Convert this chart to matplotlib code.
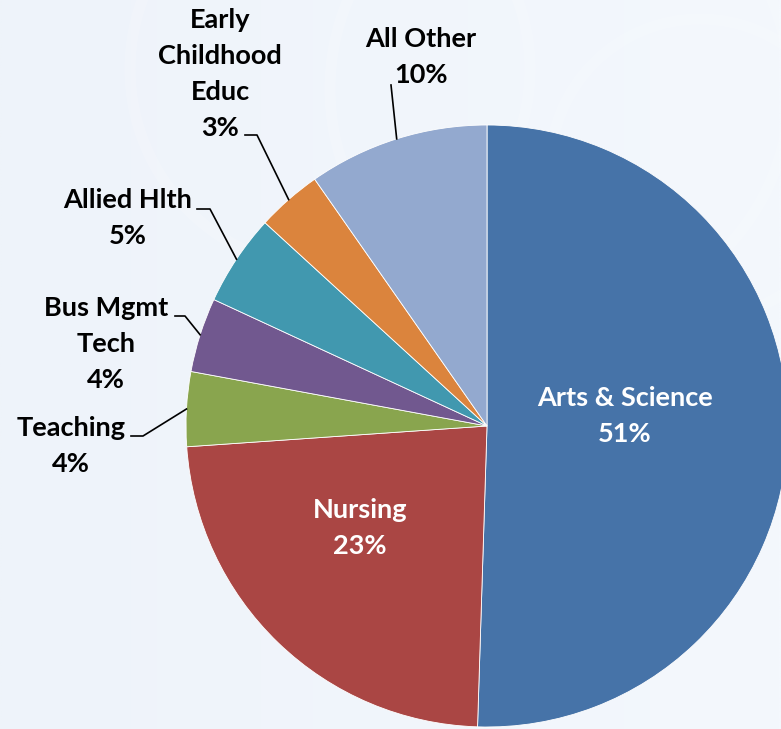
import numpy as np
import matplotlib

matplotlib.use("Agg")
import matplotlib.pyplot as plt

W, H = 781, 729

programs = ["Arts & Science", "Nursing", "Teaching", "Bus Mgmt\nTech", "Allied Hlth",
            "Early\nChildhood\nEduc", "All Other"]
shares = [50.5, 23.4, 4.0, 4.0, 4.9, 3.5, 9.7]
pct_labels = ["51%", "23%", "4%", "4%", "5%", "3%", "10%"]
colors = ["#4673A8", "#AA4644", "#89A54E", "#71588F", "#4198AF", "#DB843D", "#93A9CF"]

# label block centres (pixel coords, y from top) and elbow points of leader lines
label_pos = [(625, 416), (360, 528), (71, 446), (106, 344), (128, 218), (220, 74), (421, 57)]
elbows = {2: [(131, 436), (143, 436)], 3: [(175, 316), (185, 316)], 4: [(197, 209), (210, 209)],
          5: [(245, 135), (257, 135)], 6: [(391, 85)]}
inside = {0, 1}

cx, cy, r = 487, 426, 301

fig = plt.figure(figsize=(W / 100, H / 100), dpi=100)
ax = fig.add_axes([0, 0, 1, 1])

# soft bluish background
grad = np.linspace(0, 1, 256)
bg = np.outer(np.ones(256), grad)
ax.imshow(bg, extent=(0, W, 0, H), cmap=matplotlib.colors.LinearSegmentedColormap.from_list(
    "bg", ["#EEF3FA", "#F4F8FD"]), aspect="auto", zorder=0)
for (bx, by, br) in [(330, 660, 200), (560, 640, 230), (700, 560, 150)]:
    ax.add_patch(plt.Circle((bx, by), br, fill=False, ec="white", lw=8, alpha=0.15, zorder=0.5))

wedges, _ = ax.pie(shares, colors=colors, startangle=90, counterclock=False,
                   center=(cx, H - cy), radius=r, frame=True,
                   wedgeprops=dict(edgecolor="white", linewidth=0.6))
for w in wedges:
    w.set_zorder(2)
ax.set_xlim(0, W)
ax.set_ylim(0, H)
ax.set_aspect("equal")
ax.axis("off")

font = dict(family=["Lato", "DejaVu Sans"], fontweight="bold", fontsize=19.5)
for i, w in enumerate(wedges):
    lx, ly = label_pos[i]
    col = "white" if i in inside else "black"
    ax.text(lx, H - ly, programs[i] + "\n" + pct_labels[i], ha="center", va="center",
            color=col, linespacing=1.6, zorder=5, **font)
    if i in elbows:
        mid = np.deg2rad((w.theta1 + w.theta2) / 2)
        px, py = cx + r * np.cos(mid), (H - cy) + r * np.sin(mid)
        pts = [(x, H - y) for x, y in elbows[i]] + [(px, py)]
        xs, ys = zip(*pts)
        ax.plot(xs, ys, color="black", lw=1.2, zorder=4)

fig.savefig("out.png", dpi=100)
